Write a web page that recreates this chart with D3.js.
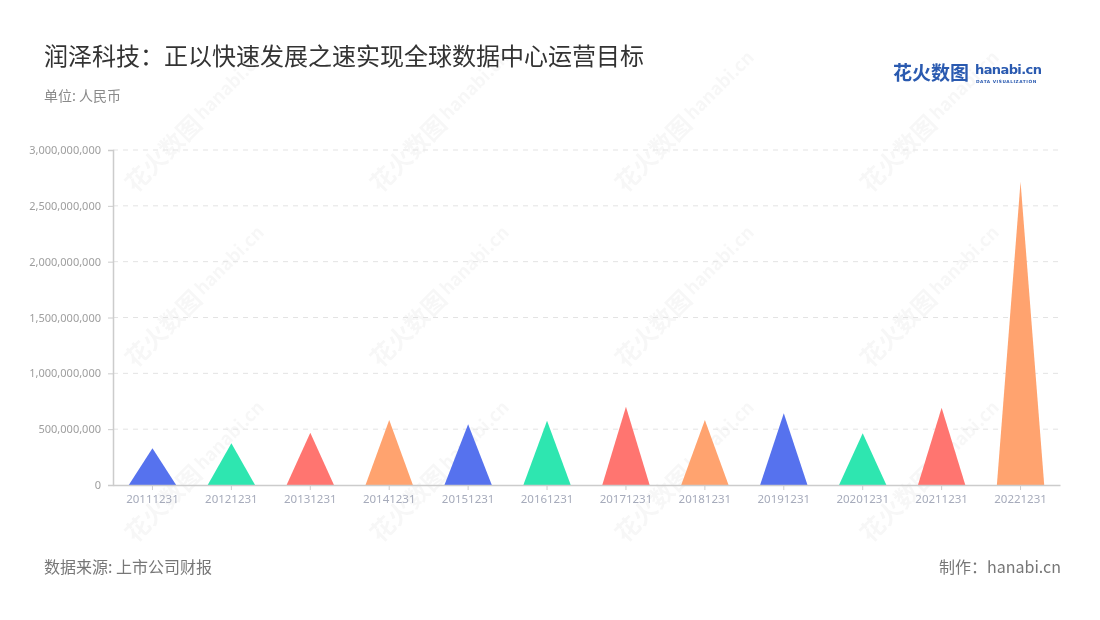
<!DOCTYPE html>
<html><head><meta charset="utf-8">
<script src="https://cdn.jsdelivr.net/npm/d3@7"></script>
<style>
html,body{margin:0;padding:0;background:#fff;}
svg{display:block;font-family:"Noto Sans CJK SC","Noto Sans",sans-serif;}
</style></head>
<body>
<svg id="c" width="1100" height="620"></svg>
<script>
const categories = ["20111231","20121231","20131231","20141231","20151231","20161231","20171231","20181231","20191231","20201231","20211231","20221231"];
const values = [329000000,373000000,468000000,582000000,543000000,576000000,701000000,582000000,642000000,463000000,692000000,2716000000];
const colors = ["#5672EE","#2EE6B0","#FF7570","#FFA36F"];
const yTicks = [0,500000000,1000000000,1500000000,2000000000,2500000000,3000000000];
const titleText = "润泽科技：正以快速发展之速实现全球数据中心运营目标";
const unitText = "单位: 人民币";
const sourceText = "数据来源: 上市公司财报";
const makerText = "制作：hanabi.cn";

(function () {
const svg = d3.select("#c");
const pL = 113, pR = 1060, pT = 150, pB = 485;

// watermarks
const wm = svg.append("g").attr("opacity", 0.035);
[183, 428, 673, 918].forEach(cx => {
  [135, 310, 485].forEach(cy => {
    const g = wm.append("g").attr("transform", `translate(${cx},${cy}) rotate(-45)`);
    g.append("text").attr("x", -75).attr("y", 8).attr("font-size", 24).attr("font-weight", 700).attr("fill", "#000").text("花火数图");
    g.append("text").attr("x", 24).attr("y", 4).attr("font-size", 18).attr("font-weight", 700).attr("fill", "#000").text("hanabi.cn");
  });
});

const x = d3.scaleBand().domain(categories).range([pL, pR]).padding(0);
const y = d3.scaleLinear().domain([0, 3000000000]).range([pB, pT]);

// grid
svg.append("g").selectAll("line").data(yTicks.slice(1)).join("line")
  .attr("x1", pL).attr("x2", pR)
  .attr("y1", d => y(d)).attr("y2", d => y(d))
  .attr("stroke", "#e3e3e3").attr("stroke-dasharray", "5,5");

// y axis
const yAxis = svg.append("g").attr("transform", `translate(${pL},0)`)
  .call(d3.axisLeft(y).tickValues(yTicks).tickFormat(d3.format(",")).tickSize(5).tickPadding(7));
yAxis.select(".domain").attr("stroke", "#cccccc").attr("stroke-width", 1.5);
yAxis.selectAll(".tick line").attr("stroke", "#cccccc");
yAxis.selectAll("text").attr("fill", "#9e9e9e").attr("font-size", 11).attr("font-family", "'Noto Sans','Noto Sans CJK SC',sans-serif");

// triangles
const w = x.bandwidth() * 0.6;
svg.append("g").selectAll("path").data(categories).join("path")
  .attr("d", (c, i) => {
    const cx = x(c) + x.bandwidth() / 2;
    return `M${cx - w/2},${y(0)}L${cx},${y(values[i])}L${cx + w/2},${y(0)}Z`;
  })
  .attr("fill", (c, i) => colors[i % 4]);

// x axis
const xAxis = svg.append("g").attr("transform", `translate(0,${pB})`)
  .call(d3.axisBottom(x).tickSize(5).tickPadding(5).tickSizeOuter(0));
xAxis.select(".domain").attr("stroke", "#cccccc").attr("stroke-width", 1.5);
xAxis.selectAll(".tick line").attr("stroke", "#cccccc");
xAxis.selectAll("text").attr("fill", "#a6abbb").attr("font-size", 11.5).attr("font-family", "'Noto Sans','Noto Sans CJK SC',sans-serif");

// titles
svg.append("text").attr("x", 44).attr("y", 65).attr("font-size", 24).attr("fill", "#333").text(titleText);
svg.append("text").attr("x", 44).attr("y", 101).attr("font-size", 14).attr("fill", "#8a8a8a").text(unitText);
svg.append("text").attr("x", 44).attr("y", 573).attr("font-size", 16).attr("fill", "#777").text(sourceText);
svg.append("text").attr("x", 1061).attr("y", 573).attr("font-size", 16).attr("fill", "#777").attr("text-anchor", "end").text(makerText);

// logo
svg.append("text").attr("x", 893).attr("y", 80).attr("font-size", 19).attr("font-weight", 700).attr("fill", "#2a5ab0").text("花火数图");
svg.append("text").attr("x", 975).attr("y", 74).attr("font-size", 13).attr("font-weight", 700).attr("fill", "#2a5ab0").attr("font-family", "'DejaVu Sans',sans-serif").attr("letter-spacing", -0.6).text("hanabi.cn");
svg.append("text").attr("x", 976).attr("y", 83).attr("font-size", 4.3).attr("font-weight", 700).attr("fill", "#2a5ab0").attr("letter-spacing", 0.55).attr("font-family", "'DejaVu Sans',sans-serif").text("DATA VISUALIZATION");
})();
</script>
</body></html>
